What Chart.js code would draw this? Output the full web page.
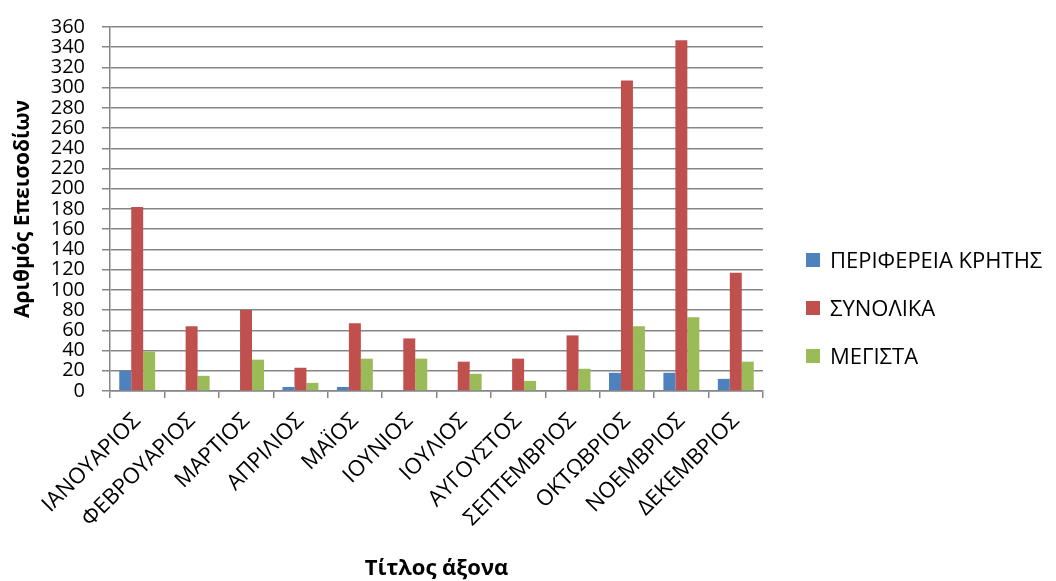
<!DOCTYPE html>
<html>
<head>
<meta charset="utf-8">
<script src="https://cdn.jsdelivr.net/npm/chart.js@4.4.1/dist/chart.umd.min.js"></script>
<style>
  html, body { margin: 0; padding: 0; background: #ffffff; }
  canvas { display: block; }
</style>
</head>
<body>
<canvas id="chart" width="1056" height="581"></canvas>
<script>
// Monthly incident counts
const months = ['ΙΑΝΟΥΑΡΙΟΣ', 'ΦΕΒΡΟΥΑΡΙΟΣ', 'ΜΑΡΤΙΟΣ', 'ΑΠΡΙΛΙΟΣ', 'ΜΑΪΟΣ', 'ΙΟΥΝΙΟΣ',
                'ΙΟΥΛΙΟΣ', 'ΑΥΓΟΥΣΤΟΣ', 'ΣΕΠΤΕΜΒΡΙΟΣ', 'ΟΚΤΩΒΡΙΟΣ', 'ΝΟΕΜΒΡΙΟΣ', 'ΔΕΚΕΜΒΡΙΟΣ'];
const seriesNames = ['ΠΕΡΙΦΕΡΕΙΑ ΚΡΗΤΗΣ', 'ΣΥΝΟΛΙΚΑ', 'ΜΕΓΙΣΤΑ'];
const creteValues = [20, 0, 0, 4, 4, 0, 0, 0, 0, 18, 18, 12];
const totalValues = [182, 64, 80, 23, 67, 52, 29, 32, 55, 307, 347, 117];
const maxValues = [39, 15, 31, 8, 32, 32, 17, 10, 22, 64, 73, 29];
const yMin = 0, yMax = 360, yStep = 20;

const FONT = "'Open Sans', 'Noto Sans', 'DejaVu Sans', sans-serif";
const AXIS_GREY = '#868686';

const colours = ['#4F81BD', '#C0504D', '#9BBB59'];
const seriesValues = [creteValues, totalValues, maxValues];

// Legend on the right: square swatch + label, one row per series
const sideLegend = {
  id: 'sideLegend',
  afterDraw(chart) {
    const { ctx, chartArea } = chart;
    const boxSize = 14;
    const boxX = chartArea.right + 43;
    const textX = boxX + boxSize + 10;
    const firstRow = chartArea.top + 233;
    const rowStep = 48;
    ctx.save();
    ctx.font = "22px " + FONT;
    ctx.textAlign = 'left';
    ctx.textBaseline = 'alphabetic';
    chart.data.datasets.forEach((ds, i) => {
      const cy = firstRow + i * rowStep;
      ctx.fillStyle = ds.backgroundColor;
      ctx.fillRect(boxX, cy - boxSize / 2, boxSize, boxSize);
      ctx.fillStyle = '#000000';
      ctx.fillText(ds.label, textX, cy + 8);
    });
    ctx.restore();
  }
};

new Chart(document.getElementById('chart'), {
  type: 'bar',
  data: {
    labels: months,
    datasets: seriesNames.map((name, i) => ({
      label: name,
      data: seriesValues[i],
      backgroundColor: colours[i],
      borderWidth: 0,
      barPercentage: 1.0,
      categoryPercentage: 0.66
    }))
  },
  plugins: [sideLegend],
  options: {
    responsive: false,
    animation: false,
    devicePixelRatio: 1,
    layout: { padding: { top: 15, right: 293, bottom: 0, left: 0 } },
    plugins: {
      tooltip: { enabled: false },
      legend: { display: false }
    },
    scales: {
      x: {
        afterFit(scale) { scale.height = 190; },
        grid: {
          display: true,
          drawOnChartArea: false,
          drawTicks: true,
          tickLength: 7,
          color: AXIS_GREY,
          lineWidth: 1.5
        },
        border: { display: true, color: AXIS_GREY, width: 1.5 },
        ticks: {
          autoSkip: false,
          minRotation: 45,
          maxRotation: 45,
          padding: 10,
          color: '#000000',
          font: { family: FONT, size: 22 }
        },
        title: {
          display: true,
          text: 'Τίτλος άξονα',
          color: '#000000',
          font: { family: FONT, size: 22, weight: 'bold', lineHeight: 1 },
          padding: { top: 0, bottom: 1 }
        }
      },
      y: {
        position: 'left',
        min: yMin,
        max: yMax,
        afterFit(scale) { scale.width = 110; },
        grid: {
          color: AXIS_GREY,
          lineWidth: 1.5,
          drawTicks: true,
          tickLength: 8
        },
        border: { display: true, color: AXIS_GREY, width: 1.5 },
        ticks: {
          stepSize: yStep,
          autoSkip: false,
          padding: 17,
          color: '#000000',
          font: { family: FONT, size: 20, lineHeight: 1 }
        },
        title: {
          display: true,
          text: 'Αριθμός Επεισοδίων',
          color: '#000000',
          font: { family: FONT, size: 21, weight: 'bold' },
          padding: { top: 10, bottom: 0 }
        }
      }
    }
  }
});
</script>
</body>
</html>
